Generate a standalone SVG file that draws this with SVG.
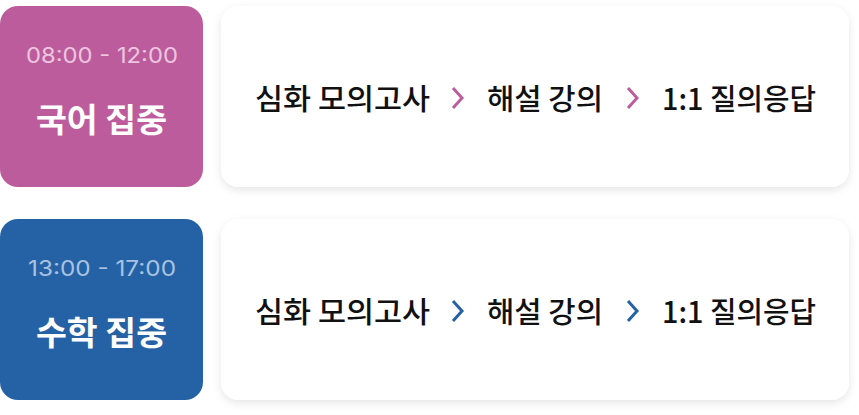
<svg xmlns="http://www.w3.org/2000/svg" width="859" height="415" viewBox="0 0 859 415">
<defs>
<filter id="sh" x="-5%" y="-20%" width="110%" height="140%">
<feDropShadow dx="0" dy="3" stdDeviation="4" flood-color="#000" flood-opacity="0.10"/>
</filter>
</defs>
<style>
.time{font-family:Inter,"Noto Sans",sans-serif;font-size:21px;text-anchor:middle}
.title{font-family:"Noto Sans CJK KR",sans-serif;font-size:33px;font-weight:700;fill:#fff;text-anchor:middle}
.step{font-family:"Noto Sans CJK KR",sans-serif;font-size:29px;font-weight:500;fill:#111;text-anchor:middle}
.card{fill:#fff;filter:url(#sh)}
.chev{fill:none;stroke-width:3;stroke-linecap:butt;stroke-linejoin:miter}
</style>
<rect width="859" height="415" fill="#fff"/>
<g id="korean">
<rect x="0" y="6" width="203" height="181" rx="18" fill="#bd5c9d"/>
<text class="time" x="102" y="63" fill="#ecc6df" textLength="152" lengthAdjust="spacingAndGlyphs">08:00 - 12:00</text>
<text class="title" x="101.5" y="132" textLength="131" lengthAdjust="spacingAndGlyphs">국어 집중</text>
</g>
<g id="korean-flow">
<rect class="card" x="221" y="6" width="628" height="181" rx="18"/>
<text class="step" x="342.5" y="110" textLength="175" lengthAdjust="spacingAndGlyphs">심화 모의고사</text>
<text class="step" x="545" y="110" textLength="116" lengthAdjust="spacingAndGlyphs">해설 강의</text>
<text class="step" x="739" y="110" textLength="154" lengthAdjust="spacingAndGlyphs">1:1 질의응답</text>
</g>
<g id="math">
<rect x="0" y="219" width="203" height="181" rx="18" fill="#2562a5"/>
<text class="time" x="102" y="276" fill="#a9c2e0" textLength="148" lengthAdjust="spacingAndGlyphs">13:00 - 17:00</text>
<text class="title" x="101.5" y="345" textLength="131" lengthAdjust="spacingAndGlyphs">수학 집중</text>
</g>
<g id="math-flow">
<rect class="card" x="221" y="219" width="628" height="181" rx="18"/>
<text class="step" x="342.5" y="323" textLength="175" lengthAdjust="spacingAndGlyphs">심화 모의고사</text>
<text class="step" x="545" y="323" textLength="116" lengthAdjust="spacingAndGlyphs">해설 강의</text>
<text class="step" x="739" y="323" textLength="154" lengthAdjust="spacingAndGlyphs">1:1 질의응답</text>
</g>
<g id="connectors">
<path class="chev" stroke="#bd5c9d" d="M453 88 L462 98 L453 108"/>
<path class="chev" stroke="#bd5c9d" d="M628 88 L637 98 L628 108"/>
<path class="chev" stroke="#2562a5" d="M453 301 L462 311 L453 321"/>
<path class="chev" stroke="#2562a5" d="M628 301 L637 311 L628 321"/>
</g>
</svg>
